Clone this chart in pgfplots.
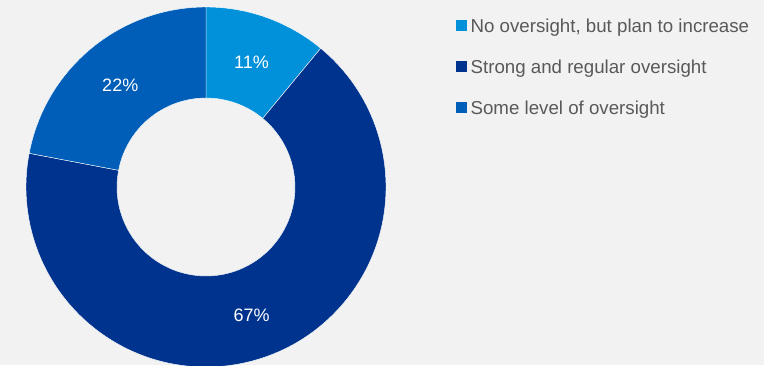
\documentclass[border=0pt]{standalone}
\usepackage{pgfplots}
\usepackage{pgfplotstable}
\pgfplotsset{compat=1.18}
\usepackage{fontspec}
\setmainfont{Liberation Sans}
\definecolor{bg}{HTML}{F2F2F2}
\definecolor{cA}{HTML}{0091DA}
\definecolor{cB}{HTML}{00338D}
\definecolor{cC}{HTML}{005EB8}
\definecolor{legtext}{HTML}{595959}

\pgfplotstableread{
value
11
67
22
}\donutdata

\begin{document}
\begin{tikzpicture}
\pgfplotstablegetelem{0}{value}\of\donutdata \let\va\pgfplotsretval
\pgfplotstablegetelem{1}{value}\of\donutdata \let\vb\pgfplotsretval
\pgfplotstablegetelem{2}{value}\of\donutdata \let\vc\pgfplotsretval
\pgfmathsetmacro\tot{\va+\vb+\vc}
\pgfmathsetmacro\aA{90}
\pgfmathsetmacro\aB{\aA-\va/\tot*360}
\pgfmathsetmacro\aC{\aB-\vb/\tot*360}
\pgfmathsetmacro\aD{\aC-\vc/\tot*360}
\pgfmathsetmacro\mA{(\aA+\aB)/2}
\pgfmathsetmacro\mB{(\aB+\aC)/2}
\pgfmathsetmacro\mC{(\aC+\aD)/2}
\fill[bg] (0,0) rectangle (764pt,365pt);
\clip (0,0) rectangle (764pt,365pt);
\begin{scope}[overlay]
\begin{axis}[
  at={(0,0)}, anchor=south west,
  x=1pt, y=1pt, xmin=0, xmax=764, ymin=0, ymax=365,
  hide axis, clip=false,
  legend style={draw=none, fill=none, at={(axis cs:456,346)}, anchor=north west,
    font=\fontsize{18.7}{22}\selectfont, text=legtext,
    inner xsep=0pt, inner ysep=0pt, row sep=26pt,
    nodes={inner xsep=4pt, inner ysep=0pt}},
  legend cell align=left,
  legend image code/.code={\fill[#1] (0pt,-3pt) rectangle (10pt,7pt);},
]
\addlegendimage{cA}
\addlegendentry{No oversight, but plan to increase}
\addlegendimage{cB}
\addlegendentry{Strong and regular oversight}
\addlegendimage{cC}
\addlegendentry{Some level of oversight}
\coordinate (C) at (axis cs:206,178);
\filldraw[cA, draw=white, line width=0.4pt] (C) ++(\aA:180pt) arc[start angle=\aA, end angle=\aB, radius=180pt] -- ([shift={(\aB:89pt)}]C) arc[start angle=\aB, end angle=\aA, radius=89pt] -- cycle;
\filldraw[cB, draw=white, line width=0.4pt] (C) ++(\aB:180pt) arc[start angle=\aB, end angle=\aC, radius=180pt] -- ([shift={(\aC:89pt)}]C) arc[start angle=\aC, end angle=\aB, radius=89pt] -- cycle;
\filldraw[cC, draw=white, line width=0.4pt] (C) ++(\aC:180pt) arc[start angle=\aC, end angle=\aD, radius=180pt] -- ([shift={(\aD:89pt)}]C) arc[start angle=\aD, end angle=\aC, radius=89pt] -- cycle;
\node[text=white, font=\fontsize{18}{20}\selectfont, yshift=-2pt] at ([shift={(\mA:134.5pt)}]C) {\va\%};
\node[text=white, font=\fontsize{18}{20}\selectfont, yshift=-2pt] at ([shift={(\mB:134.5pt)}]C) {\vb\%};
\node[text=white, font=\fontsize{18}{20}\selectfont, yshift=-2pt] at ([shift={(\mC:134.5pt)}]C) {\vc\%};
\end{axis}
\end{scope}
\end{tikzpicture}
\end{document}
